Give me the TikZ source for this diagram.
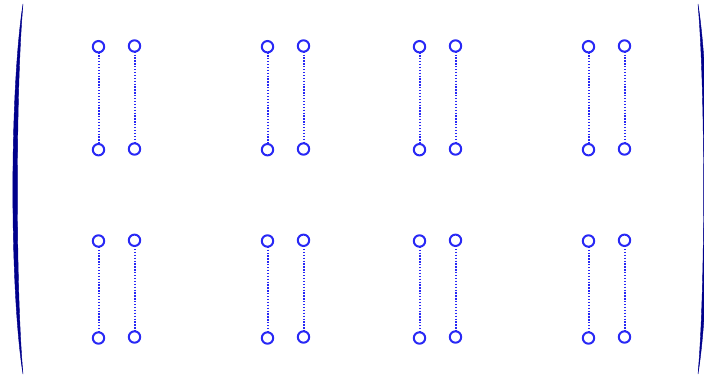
\documentclass[tikz,border=0pt]{standalone}
\usepackage{tikz}
\usepackage{xcolor}

\definecolor{pinblue}{RGB}{40,40,245}
\definecolor{parnavy}{RGB}{0,0,140}

\begin{document}
\begin{tikzpicture}[
      x=1pt, y=-1pt,
      pin/.style={draw=pinblue, circle, line width=2pt, inner sep=0pt, minimum size=11.4pt},
      link/.style={pinblue, line width=2pt, dash pattern=on 1.3pt off 1.6pt, shorten >=-1pt, shorten <=-1pt},
      paren/.style={fill=parnavy, draw=parnavy, line width=0.4pt}
  ]
    \useasboundingbox (0,0) rectangle (704,377);

    % the two big delimiters
    \path[paren] (23,4) .. controls (9.5,90) and (9.5,290) .. (23,374)
                 .. controls (15.5,290) and (15.5,90) .. cycle;
    \path[paren] (698,4) .. controls (711.5,90) and (711.5,290) .. (698,374)
                 .. controls (705.5,290) and (705.5,90) .. cycle;

    % pairs of pins, upper and lower row
    \foreach \gx/\n in {98.5/1, 267.5/2, 419.5/3, 588.5/4} {
      \node[pin] (ua\n) at (\gx,46.7) {};
      \node[pin] (va\n) at (\gx,149.7) {};
      \node[pin] (ub\n) at (\gx+36,46) {};
      \node[pin] (vb\n) at (\gx+36,149) {};
      \node[pin] (la\n) at (\gx,241) {};
      \node[pin] (ma\n) at (\gx,338) {};
      \node[pin] (lb\n) at (\gx+36,240.3) {};
      \node[pin] (mb\n) at (\gx+36,337) {};

      \draw[link] (ua\n) -- (va\n);
      \draw[link] (ub\n) -- (vb\n);
      \draw[link] (la\n) -- (ma\n);
      \draw[link] (lb\n) -- (mb\n);
    }
  \end{tikzpicture}
\end{document}
